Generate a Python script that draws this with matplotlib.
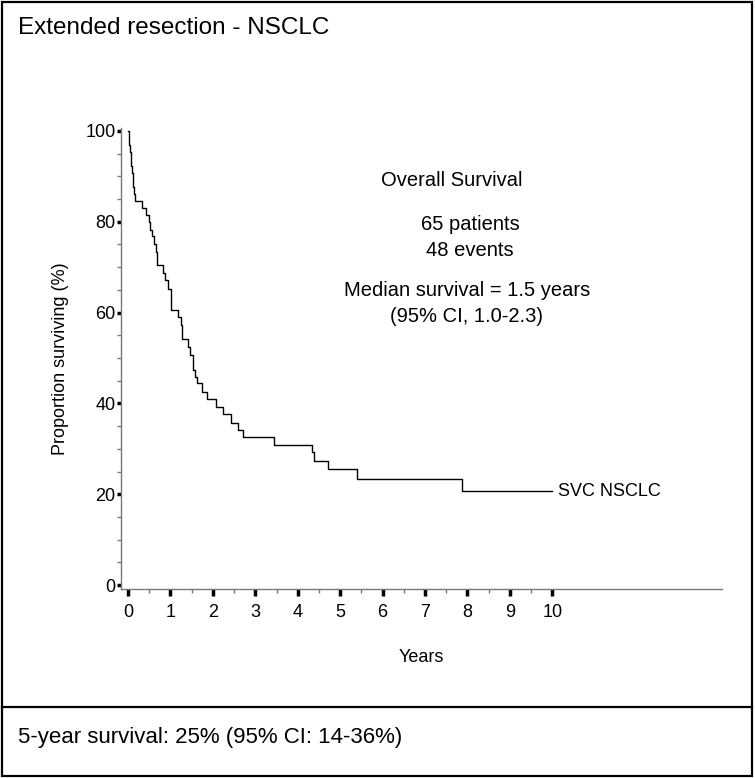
import matplotlib
matplotlib.use("Agg")
import matplotlib.pyplot as plt
from matplotlib.lines import Line2D
from matplotlib.ticker import MultipleLocator, FixedLocator

plt.rcParams['font.family'] = ['Liberation Sans', 'DejaVu Sans']

# Kaplan-Meier estimate: event times (years) and survival (%) after each step
times = [0.0, 0.02, 0.03, 0.05, 0.06, 0.08, 0.09, 0.11, 0.12, 0.14, 0.16,
         0.32, 0.42, 0.50, 0.52, 0.56, 0.61, 0.65, 0.69, 0.82, 0.87, 0.95,
         1.01, 1.02, 1.19, 1.24, 1.28, 1.42, 1.46, 1.53, 1.58, 1.62, 1.74,
         1.86, 2.08, 2.25, 2.42, 2.60, 2.71, 3.44, 4.33, 4.39, 4.71, 5.39,
         7.87]
survival = [100.0, 98.5, 96.9, 95.4, 93.8, 92.3, 90.8, 89.2, 87.7, 86.2, 84.6,
            83.1, 81.5, 80.0, 78.2, 76.9, 75.2, 73.4, 70.5, 68.7, 67.2, 65.3,
            63.5, 60.6, 59.0, 57.3, 54.1, 52.5, 50.7, 47.4, 45.9, 44.4, 42.6,
            41.0, 39.3, 37.6, 35.7, 34.1, 32.5, 30.8, 29.3, 27.3, 25.5, 23.4,
            20.7]
follow_up_end = 10.0
curve_label = "SVC NSCLC"

x_ticks = list(range(0, 11))
y_ticks = [0, 20, 40, 60, 80, 100]

title = "Extended resection - NSCLC"
footer = "5-year survival: 25% (95% CI: 14-36%)"
summary_title = "Overall Survival"
summary_counts = ["65 patients", "48 events"]
summary_median = ["Median survival = 1.5 years", "(95% CI, 1.0-2.3)"]

W, H = 755, 778
fig = plt.figure(figsize=(W / 100, H / 100), dpi=100)

def fx(px):
    return px / W

def fy(py):
    return 1 - py / H

# outer frame and the divider above the footer
fig.add_artist(plt.Rectangle((fx(2), fy(776)), fx(750), 774 / H, fill=False,
                             edgecolor='black', linewidth=1.6,
                             transform=fig.transFigure))
fig.add_artist(Line2D([fx(2), fx(752)], [fy(707), fy(707)], color='black',
                      linewidth=1.6, transform=fig.transFigure))

fig.text(fx(18), fy(28), title, fontsize=17.5, ha='left', va='center')
fig.text(fx(18), fy(738), footer, fontsize=16, ha='left', va='center')

ax = fig.add_axes([fx(121), fy(589), fx(722 - 121), (589 - 128) / H])
ax.set_xlim(-0.165, 14.0)
ax.set_ylim(-0.88, 100.66)

xs = list(times) + [follow_up_end]
ys = list(survival) + [survival[-1]]
ax.step(xs, ys, where='post', color='black', linewidth=1.0)
ax.text(follow_up_end + 0.14, survival[-1], curve_label, fontsize=13,
        ha='left', va='center')

for side in ('top', 'right'):
    ax.spines[side].set_visible(False)
for side in ('left', 'bottom'):
    ax.spines[side].set_color('#777777')
    ax.spines[side].set_linewidth(1.0)

ax.xaxis.set_major_locator(FixedLocator(x_ticks))
ax.xaxis.set_minor_locator(FixedLocator([x + 0.5 for x in x_ticks[:-1]]))
ax.yaxis.set_major_locator(FixedLocator(y_ticks))
ax.yaxis.set_minor_locator(MultipleLocator(5))
ax.tick_params(axis='x', which='major', direction='out', length=5, width=2.5,
               color='black', labelsize=13, pad=6)
ax.tick_params(axis='x', which='minor', direction='out', length=3, width=1,
               color='#777777')
ax.tick_params(axis='y', which='major', direction='out', length=3, width=2.5,
               color='black', labelsize=13, pad=1)
ax.tick_params(axis='y', which='minor', direction='out', length=3, width=1,
               color='#777777')

ax.set_xlabel("Years", fontsize=13, labelpad=20)
ax.set_ylabel("Proportion surviving (%)", fontsize=13, labelpad=12)

fig.text(fx(452), fy(181), summary_title, fontsize=14.5, ha='center', va='center')
for i, line in enumerate(summary_counts):
    fig.text(fx(470), fy(225 + 26 * i), line, fontsize=14.5,
             ha='center', va='center')
for i, line in enumerate(summary_median):
    fig.text(fx(467), fy(290 + 26 * i), line, fontsize=14.5,
             ha='center', va='center')

fig.savefig("out.png", dpi=100)
